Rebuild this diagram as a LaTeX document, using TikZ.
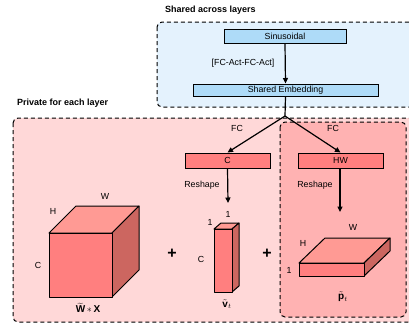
\documentclass[tikz,border=0pt]{standalone}
\usepackage{fontspec}
\setmainfont{Liberation Sans}
\usepackage{amsmath}
\usetikzlibrary{arrows.meta}
\definecolor{bluebg}{HTML}{E4F2FD}
\definecolor{bluebox}{HTML}{AEDBF8}
\definecolor{pinkbg}{HTML}{FFD8D8}
\definecolor{pinkin}{HTML}{FFB2B2}
\definecolor{redbox}{HTML}{FF7F7F}
\definecolor{redtop}{HTML}{FF9A94}
\definecolor{redside}{HTML}{CC6660}
\tikzset{
  dashbox/.style={draw=black, line width=1pt, dash pattern=on 4pt off 3pt, rounded corners=5pt},
  bluerect/.style={draw=black, line width=1pt, fill=bluebox, font=\fontsize{8.8}{10}\selectfont, inner sep=0pt},
  redrect/.style={draw=black, line width=1pt, fill=redbox, font=\fontsize{8.8}{10}\selectfont, inner sep=0pt, minimum width=85pt, minimum height=15pt},
  lbl/.style={font=\fontsize{8.8}{10}\selectfont, inner sep=0pt},
  ttl/.style={font=\bfseries\fontsize{9}{10}\selectfont, inner sep=0pt, anchor=west},
  arr/.style={line width=1.2pt, -{Triangle[length=5.5pt,width=5pt]}},
  face/.style={draw=black, line width=1pt, line join=round},
  plus/.style={font=\bfseries\fontsize{16}{16}\selectfont, inner sep=0pt}
}
\begin{document}
\begin{tikzpicture}[x=1pt,y=-1pt]
\useasboundingbox (0,0) rectangle (409,325);
% background boxes
\draw[dashbox, fill=bluebg] (157,22) rectangle (414,107);
\draw[dashbox, fill=pinkbg] (13,118) rectangle (414,322);
\draw[dashbox, fill=pinkin] (280,122) rectangle (406,317);
% titles
\node[ttl] (tshared) at (165,10) {Shared across layers};
\node[ttl] (tpriv) at (17,103) {Private for each layer};
% top boxes
\node[bluerect, minimum width=122pt, minimum height=14pt] (sin) at (285,36) {Sinusoidal};
\node[bluerect, minimum width=185pt, minimum height=12pt] (emb) at (285.5,90) {Shared Embedding};
\draw[arr] (sin.south) -- (emb.north);
\node[lbl] (fcact) at (243,63) {[FC-Act-FC-Act]};
% red boxes
\node[redrect] (cbox) at (227.5,160.5) {C};
\node[redrect] (hwbox) at (340.5,160.5) {HW};
\coordinate (br) at (285,116);
\draw[line width=1.2pt] (emb.south) -- (br);
\draw[arr] (br) -- (cbox.north);
\draw[arr] (br) -- (hwbox.north);
\node[lbl] (fc1) at (237,128) {FC};
\node[lbl] (fc2) at (333,128) {FC};
\node[lbl] (rs1) at (202,185) {Reshape};
\node[lbl] (rs2) at (315,185) {Reshape};
\coordinate (vtop) at (228,203);
\coordinate (ptop) at (340,212);
\draw[arr] (cbox.south) -- (vtop);
\draw[arr] ([xshift=-0.5pt]hwbox.south) -- (ptop);
% cube
\filldraw[face, fill=redtop] (49,233) -- (76,206) -- (139,206) -- (112,233) -- cycle;
\filldraw[face, fill=redside] (112,233) -- (139,206) -- (139,270) -- (112,297) -- cycle;
\filldraw[face, fill=redbox] (49,233) rectangle (112,297);
\node[lbl] (cw) at (105,196) {W};
\node[lbl] (ch) at (53,211) {H};
\node[lbl] (cc) at (38,265) {C};
\node[inner sep=0pt] (wx) at (88,308) {$\widetilde{\mathbf{W}}\,{*}\,\mathbf{X}$};
% plus
\node[plus] (p1) at (172,254) {+};
\node[plus] (p2) at (267,254) {+};
% vector
\filldraw[face, fill=redtop] (214,229) -- (221,223) -- (239,223) -- (232,229) -- cycle;
\filldraw[face, fill=redside] (232,229) -- (239,223) -- (239,286) -- (232,292) -- cycle;
\filldraw[face, fill=redbox] (214,229) rectangle (232,292);
\node[lbl] (v1a) at (210,222) {1};
\node[lbl] (v1b) at (228,214) {1};
\node[lbl] (vc) at (201,259) {C};
\node[inner sep=0pt] (vt) at (227,304) {$\tilde{\mathbf{v}}_t$};
% slab
\filldraw[face, fill=redtop] (299,263) -- (325,238) -- (390,238) -- (364,263) -- cycle;
\filldraw[face, fill=redside] (364,263) -- (390,238) -- (390,251) -- (364,276) -- cycle;
\filldraw[face, fill=redbox] (299,263) rectangle (364,276);
\node[lbl] (sw) at (353,227) {W};
\node[lbl] (sh) at (303,243) {H};
\node[lbl] (s1) at (289,270) {1};
\node[inner sep=0pt] (pt) at (343,297) {$\tilde{\mathbf{p}}_t$};
\end{tikzpicture}
\end{document}
